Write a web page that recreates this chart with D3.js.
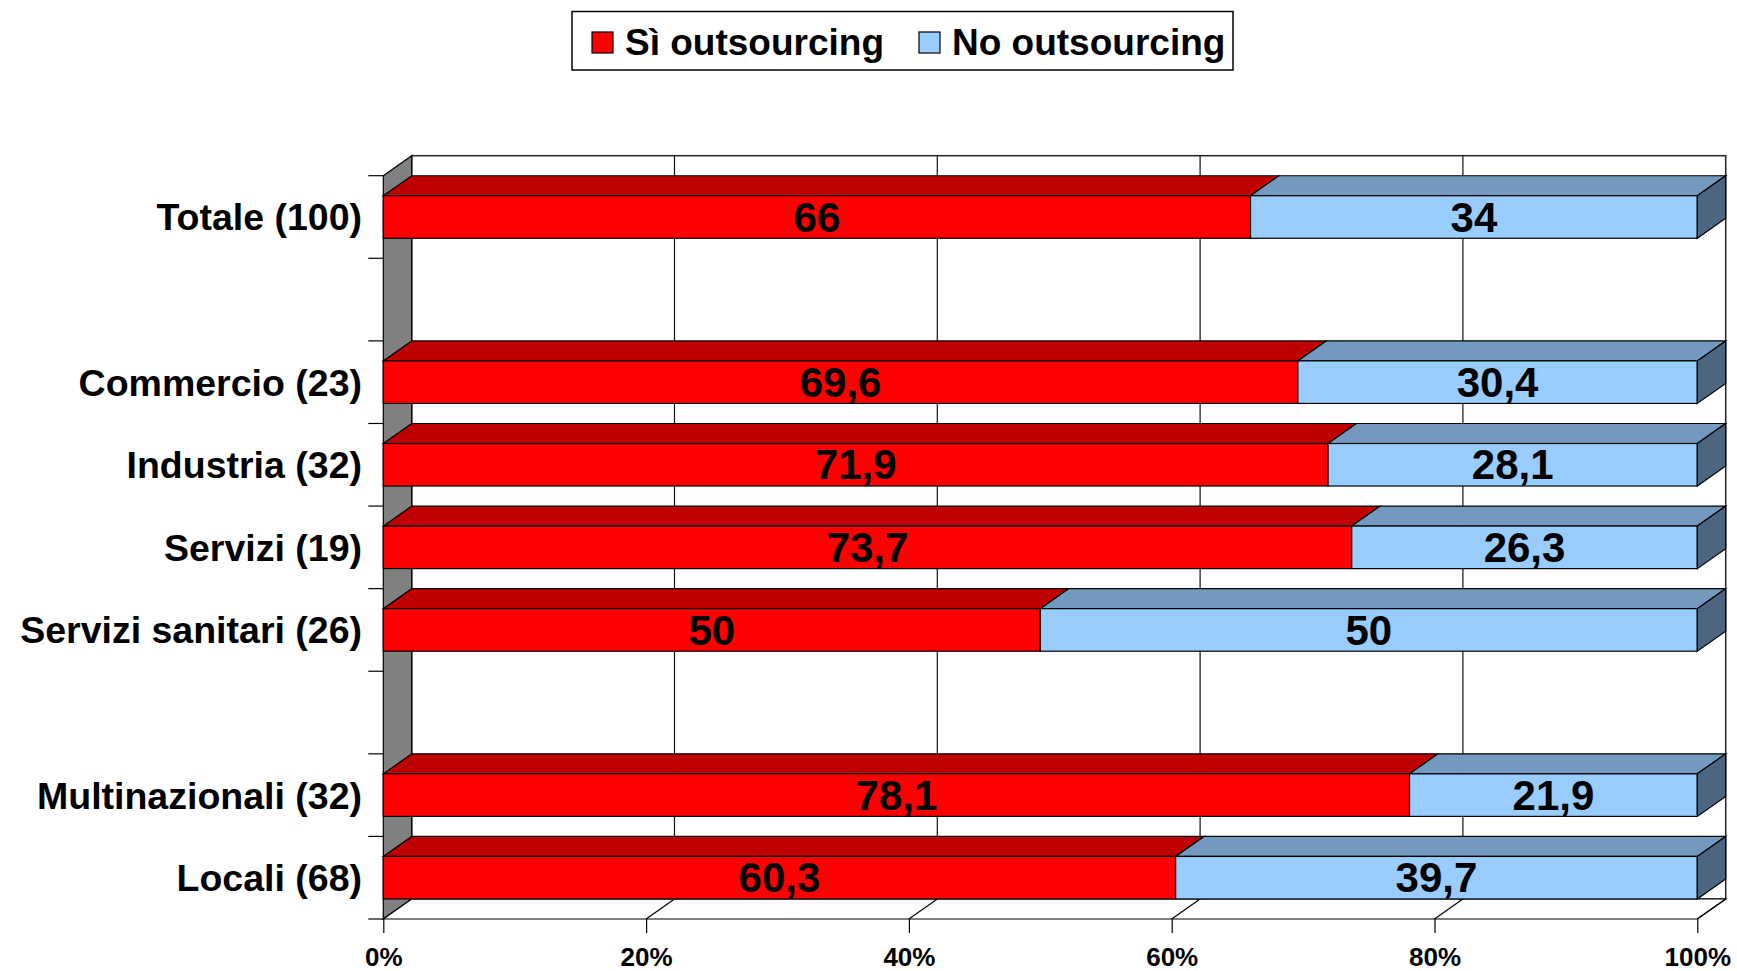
<!DOCTYPE html>
<html>
<head>
<meta charset="utf-8">
<script src="https://cdnjs.cloudflare.com/ajax/libs/d3/7.8.5/d3.min.js"></script>
<style>
  body { margin: 0; background: #fff; }
  svg { display: block; font-family: "Liberation Sans", Arial, sans-serif; font-weight: bold; }
</style>
</head>
<body>
<div id="chart"></div>
<script>
// data
var categories = ["Totale (100)", "Commercio (23)", "Industria (32)", "Servizi (19)",
  "Servizi sanitari (26)", "Multinazionali (32)", "Locali (68)"];
var siOutsourcing = [66, 69.6, 71.9, 73.7, 50, 78.1, 60.3];
var noOutsourcing = [34, 30.4, 28.1, 26.3, 50, 21.9, 39.7];
// row order with the two empty rows of the original
var rows = ["Totale (100)", "_gap1", "Commercio (23)", "Industria (32)", "Servizi (19)",
  "Servizi sanitari (26)", "_gap2", "Multinazionali (32)", "Locali (68)"];
var seriesNames = ["Sì outsourcing", "No outsourcing"];
var xTicks = [0, 20, 40, 60, 80, 100];

var W = 1737, H = 971;
var plotLeft = 383.3, plotRight = 1697.3, plotTop = 175.7, plotBottom = 919;
var dx = 28.4, dy = -20; // depth of the 3d effect

var colors = {
  si: { front: "#FF0000", top: "#BF0000", side: "#800000" },
  no: { front: "#99CCFF", top: "#7399BF", side: "#4D6680" }
};

var svg = d3.select("#chart")
  .append("svg")
  .attr("width", W)
  .attr("height", H);

var x = d3.scaleLinear().domain([0, 100]).range([plotLeft, plotRight]);
var y = d3.scaleBand()
  .domain(rows)
  .range([plotTop, plotBottom])
  .paddingInner(0.485)
  .paddingOuter(0.2425);

// back wall
svg.append("rect")
  .attr("x", plotLeft + dx).attr("y", plotTop + dy)
  .attr("width", plotRight - plotLeft).attr("height", plotBottom - plotTop)
  .attr("fill", "#fff")
  .attr("stroke", "#222").attr("stroke-width", 1.5);

// grid lines on back wall
svg.selectAll(".grid")
  .data(xTicks.filter(function (d) { return d > 0 && d < 100; }))
  .enter().append("line")
  .attr("x1", function (d) { return x(d) + dx; })
  .attr("x2", function (d) { return x(d) + dx; })
  .attr("y1", plotTop + dy).attr("y2", plotBottom + dy)
  .attr("stroke", "#111").attr("stroke-width", 1.2);

// left wall
svg.append("polygon")
  .attr("points", [[plotLeft, plotTop], [plotLeft + dx, plotTop + dy], [plotLeft + dx, plotBottom + dy], [plotLeft, plotBottom]].join(" "))
  .attr("fill", "#808080")
  .attr("stroke", "#000").attr("stroke-width", 1.2);

// floor
svg.append("polygon")
  .attr("points", [[plotLeft, plotBottom], [plotRight, plotBottom], [plotRight + dx, plotBottom + dy], [plotLeft + dx, plotBottom + dy]].join(" "))
  .attr("fill", "#fff")
  .attr("stroke", "#000").attr("stroke-width", 1.2);

svg.selectAll(".floorgrid")
  .data(xTicks.filter(function (d) { return d > 0; }))
  .enter().append("line")
  .attr("x1", function (d) { return x(d); })
  .attr("x2", function (d) { return x(d) + dx; })
  .attr("y1", plotBottom).attr("y2", plotBottom + dy)
  .attr("stroke", "#000").attr("stroke-width", 1.2);

// bars
var data = categories.map(function (c, i) {
  return { cat: c, si: siOutsourcing[i], no: noOutsourcing[i] };
});

var bh = y.bandwidth();

function poly(pts) { return pts.map(function (p) { return p.join(","); }).join(" "); }

data.forEach(function (d) {
  var y0 = y(d.cat);
  var segs = [
    { a: 0, b: d.si, c: colors.si, v: d.si },
    { a: d.si, b: d.si + d.no, c: colors.no, v: d.no }
  ];
  var g = svg.append("g");
  segs.forEach(function (s) {
    g.append("polygon")
      .attr("points", poly([[x(s.a), y0], [x(s.b), y0], [x(s.b) + dx, y0 + dy], [x(s.a) + dx, y0 + dy]]))
      .attr("fill", s.c.top).attr("stroke", "#000").attr("stroke-width", 1.2);
  });
  segs.forEach(function (s) {
    g.append("rect")
      .attr("x", x(s.a)).attr("y", y0)
      .attr("width", x(s.b) - x(s.a)).attr("height", bh)
      .attr("fill", s.c.front).attr("stroke", "#000").attr("stroke-width", 1.2);
  });
  var last = segs[1];
  g.append("polygon")
    .attr("points", poly([[x(last.b), y0], [x(last.b) + dx, y0 + dy], [x(last.b) + dx, y0 + dy + bh], [x(last.b), y0 + bh]]))
    .attr("fill", last.c.side).attr("stroke", "#000").attr("stroke-width", 1.2);
  segs.forEach(function (s) {
    g.append("text")
      .attr("x", (x(s.a) + x(s.b)) / 2)
      .attr("y", y0 + bh / 2)
      .attr("dy", "0.35em")
      .attr("text-anchor", "middle")
      .attr("font-size", "42px")
      .attr("fill", "#000")
      .text(String(s.v).replace(".", ","));
  });
});

// category ticks at the row boundaries
var bounds = d3.range(rows.length + 1).map(function (i) { return plotTop + i * y.step(); });
svg.selectAll(".ytick")
  .data(bounds)
  .enter().append("line")
  .attr("x1", plotLeft - 15).attr("x2", plotLeft)
  .attr("y1", function (d) { return d; }).attr("y2", function (d) { return d; })
  .attr("stroke", "#000").attr("stroke-width", 1.2);

svg.selectAll(".ylabel")
  .data(categories)
  .enter().append("text")
  .attr("x", 362)
  .attr("y", function (d) { return y(d) + bh / 2; })
  .attr("dy", "0.36em")
  .attr("text-anchor", "end")
  .attr("font-size", "37.5px")
  .attr("fill", "#000")
  .text(function (d) { return d; });

// x axis
var xAxis = svg.append("g")
  .attr("transform", "translate(0," + plotBottom + ")")
  .call(d3.axisBottom(x)
    .tickValues(xTicks)
    .tickSize(14)
    .tickPadding(15)
    .tickFormat(function (d) { return d + "%"; }));
xAxis.select(".domain").remove();
xAxis.selectAll("line").attr("stroke", "#000").attr("stroke-width", 1.2);
xAxis.selectAll("text")
  .attr("font-size", "26px")
  .attr("font-family", "'Liberation Sans', Arial, sans-serif")
  .attr("font-weight", "bold")
  .attr("fill", "#000");

// legend
var legend = svg.append("g");
legend.append("rect")
  .attr("x", 572).attr("y", 11.5)
  .attr("width", 661).attr("height", 58.5)
  .attr("fill", "#fff").attr("stroke", "#000").attr("stroke-width", 1.5);

var legItems = [
  { name: seriesNames[0], color: colors.si.front, x: 592 },
  { name: seriesNames[1], color: colors.no.front, x: 919 }
];
legItems.forEach(function (d) {
  legend.append("rect")
    .attr("x", d.x).attr("y", 32)
    .attr("width", 21).attr("height", 21)
    .attr("fill", d.color).attr("stroke", "#000").attr("stroke-width", 1.2);
  legend.append("text")
    .attr("x", d.x + 33).attr("y", 55)
    .attr("font-size", "37px")
    .attr("fill", "#000")
    .text(d.name);
});
</script>
</body>
</html>
